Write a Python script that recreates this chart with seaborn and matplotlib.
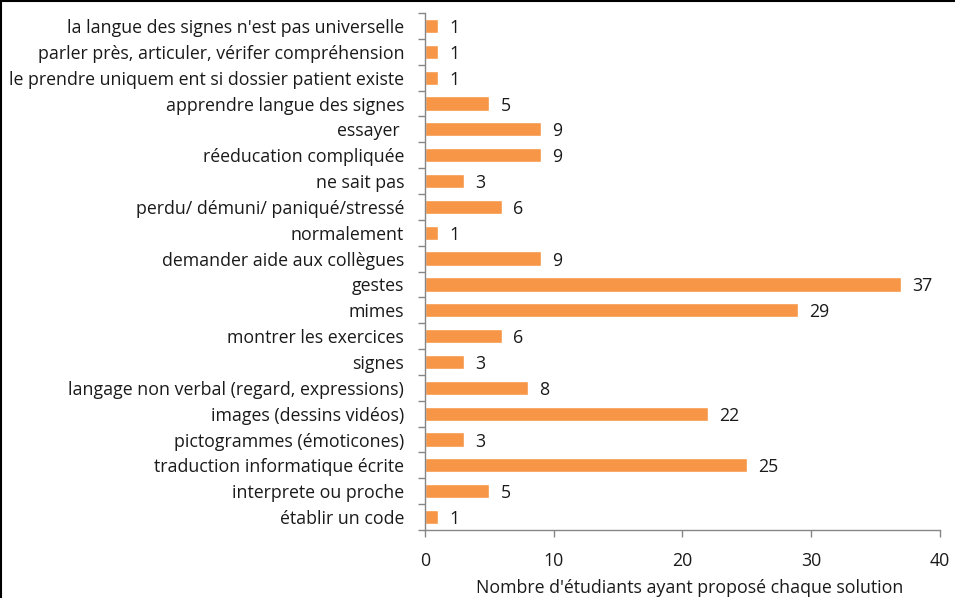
import numpy as np
import pandas as pd
import matplotlib
matplotlib.use("Agg")
import matplotlib.pyplot as plt
from matplotlib.lines import Line2D
from matplotlib.ticker import FixedLocator
import seaborn as sns

categories = [
    "la langue des signes n'est pas universelle",
    "parler près, articuler, vérifer compréhension",
    "le prendre uniquem ent si dossier patient existe",
    "apprendre langue des signes",
    "essayer ",
    "réeducation compliquée",
    "ne sait pas",
    "perdu/ démuni/ paniqué/stressé",
    "normalement",
    "demander aide aux collègues",
    "gestes",
    "mimes",
    "montrer les exercices",
    "signes",
    "langage non verbal (regard, expressions)",
    "images (dessins vidéos)",
    "pictogrammes (émoticones)",
    "traduction informatique écrite",
    "interprete ou proche",
    "établir un code",
]
counts = [1, 1, 1, 5, 9, 9, 3, 6, 1, 9, 37, 29, 6, 3, 8, 22, 3, 25, 5, 1]
x_ticks = [0, 10, 20, 30, 40]
x_label = "Nombre d'étudiants ayant proposé chaque solution"

df = pd.DataFrame({"solution": categories, "n": counts})

sns.set_style("white")
plt.rcParams["font.family"] = ["Open Sans", "DejaVu Sans"]
FS = 12.8

fig = plt.figure(figsize=(9.55, 5.98), dpi=100)
ax = fig.add_axes([0.445, 0.1137, 0.539, 0.8645])

sns.barplot(data=df, x="n", y="solution", orient="h", color="#F79646",
            saturation=1, width=0.55, ax=ax)
labels = ax.bar_label(ax.containers[0], padding=8, fontsize=FS, color="#1a1a1a")
for t in labels:
    t.set_va("center_baseline")

ax.set_xlim(0, 40)
ax.set_ylim(len(categories) - 0.5, -0.5)
ax.set_xticks(x_ticks)
ax.set_xlabel(x_label, fontsize=FS, color="#1a1a1a", va="center")
ax.xaxis.set_label_coords(0.515, -0.112)
ax.set_ylabel("")

ax.yaxis.set_minor_locator(FixedLocator(np.arange(-0.5, len(categories), 1)))
ax.tick_params(axis="y", which="major", length=0, pad=15, labelsize=FS, labelcolor="#1a1a1a")
ax.tick_params(axis="y", which="minor", length=5, width=1, color="#868686", left=True)
ax.tick_params(axis="x", which="major", length=5, width=1, color="#868686", bottom=True,
               pad=11, labelsize=FS, labelcolor="#1a1a1a")

for side in ["top", "right"]:
    ax.spines[side].set_visible(False)
for side in ["left", "bottom"]:
    ax.spines[side].set_color("#868686")
    ax.spines[side].set_linewidth(1)

# thin black frame on left and top edges of the image
fig.add_artist(Line2D([0.001, 0.001], [0, 1], color="black", lw=1.5, transform=fig.transFigure))
fig.add_artist(Line2D([0, 1], [0.999, 0.999], color="black", lw=1.5, transform=fig.transFigure))

fig.savefig("out.png", dpi=100)
